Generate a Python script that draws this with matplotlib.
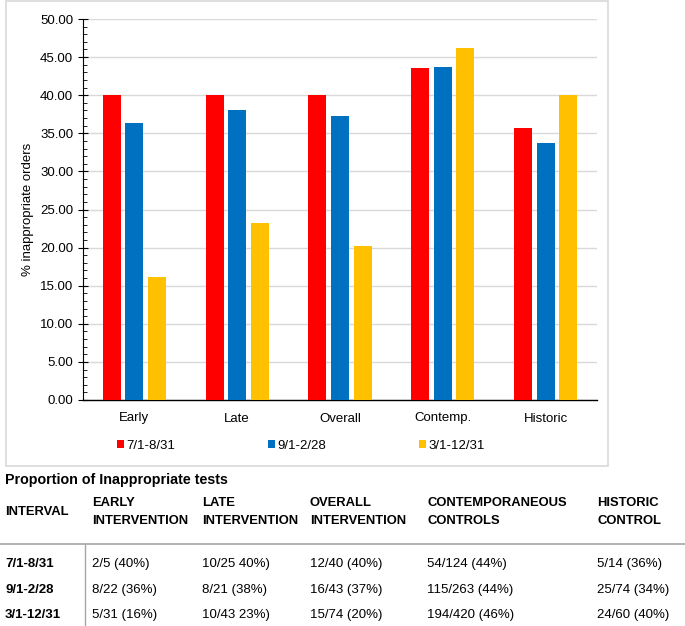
import matplotlib
matplotlib.use("Agg")
import matplotlib.pyplot as plt
from matplotlib.lines import Line2D
from matplotlib.patches import Rectangle
from matplotlib.ticker import MultipleLocator, FormatStrFormatter
import numpy as np

plt.rcParams['font.family'] = ['Liberation Sans', 'DejaVu Sans']

categories = ['Early', 'Late', 'Overall', 'Contemp.', 'Historic']
periods = ['7/1-8/31', '9/1-2/28', '3/1-12/31']
colors = ['#ff0000', '#0070c0', '#ffc000']

vals_jul_aug = [40.00, 40.00, 40.00, 43.55, 35.71]
vals_sep_feb = [36.36, 38.10, 37.21, 43.73, 33.78]
vals_mar_dec = [16.13, 23.26, 20.27, 46.19, 40.00]

table_title = 'Proportion of Inappropriate tests'
table_header = ['INTERVAL', 'EARLY\nINTERVENTION', 'LATE\nINTERVENTION',
                'OVERALL\nINTERVENTION', 'CONTEMPORANEOUS\nCONTROLS',
                'HISTORIC\nCONTROL']
table_rows = [
  ['7/1-8/31', '2/5 (40%)', '10/25 40%)', '12/40 (40%)', '54/124 (44%)', '5/14 (36%)'],
  ['9/1-2/28', '8/22 (36%)', '8/21 (38%)', '16/43 (37%)', '115/263 (44%)', '25/74 (34%)'],
  ['3/1-12/31', '5/31 (16%)', '10/43 23%)', '15/74 (20%)', '194/420 (46%)', '24/60 (40%)'],
]

W, H = 685, 626
fig = plt.figure(figsize=(W / 100, H / 100), dpi=100)

def fx(px):
  return px / W

def fy(py):
  return 1 - py / H

# chart frame
fig.patches.append(Rectangle((fx(6), fy(466)), fx(602), (466 - 1) / H,
                             transform=fig.transFigure, fill=False,
                             edgecolor='#d9d9d9', linewidth=1.2))

ax_h = (400 - 19) / H
ax = fig.add_axes([fx(83), fy(400), fx(597 - 83), ax_h])

x = np.arange(len(categories))
step = 0.22
width = 0.175
series = [vals_jul_aug, vals_sep_feb, vals_mar_dec]
for i, (vals, col, lab) in enumerate(zip(series, colors, periods)):
  ax.bar(x + (i - 1) * step, vals, width, color=col, label=lab, zorder=3)

ax.set_xlim(-0.5, len(categories) - 0.5)
ax.set_ylim(0, 50)
ax.yaxis.set_major_locator(MultipleLocator(5))
ax.yaxis.set_minor_locator(MultipleLocator(1))
ax.yaxis.set_major_formatter(FormatStrFormatter('%.2f'))
ax.grid(axis='y', color='#d9d9d9', linewidth=1, zorder=0)
ax.tick_params(axis='y', which='major', direction='inout', length=7, width=0.8,
               labelsize=9.5)
ax.tick_params(axis='y', which='minor', direction='in', length=3, width=0.6)
ax.set_xticks(x)
ax.set_xticklabels(categories)
ax.tick_params(axis='x', length=0, labelsize=9.5, pad=9)
for s in ['top', 'right']:
  ax.spines[s].set_visible(False)
ax.spines['left'].set_linewidth(0.8)
ax.spines['bottom'].set_linewidth(1.0)
ax.set_ylabel('% inappropriate orders', fontsize=9.5, labelpad=4)

ax.legend(loc='center', bbox_to_anchor=((301 - 83) / 514, (fy(446) - fy(400)) / ax_h),
          ncol=3, frameon=False, fontsize=9.5, handlelength=0.55, handleheight=0.55,
          handletextpad=0.2, columnspacing=7.0)

# table below the chart
fig.text(fx(5), fy(480), table_title, fontsize=10.3, fontweight='bold', va='center')
col_x = [5, 92, 202, 310, 427, 597]
for cx, h in zip(col_x, table_header):
  fig.text(fx(cx), fy(512), h, fontsize=9.4, fontweight='bold', va='center',
           linespacing=1.65)
row_y = [564, 590, 615]
for ry, row in zip(row_y, table_rows):
  for j, (cx, cell) in enumerate(zip(col_x, row)):
    fig.text(fx(cx), fy(ry), cell, fontsize=9.5, va='center',
             fontweight='bold' if j == 0 else 'normal')

fig.add_artist(Line2D([0, 1], [fy(544), fy(544)], transform=fig.transFigure,
                      color='#a6a6a6', linewidth=1.2))
fig.add_artist(Line2D([fx(85), fx(85)], [fy(544), 0], transform=fig.transFigure,
                      color='#a6a6a6', linewidth=1.0))

fig.savefig('out.png', dpi=100)
